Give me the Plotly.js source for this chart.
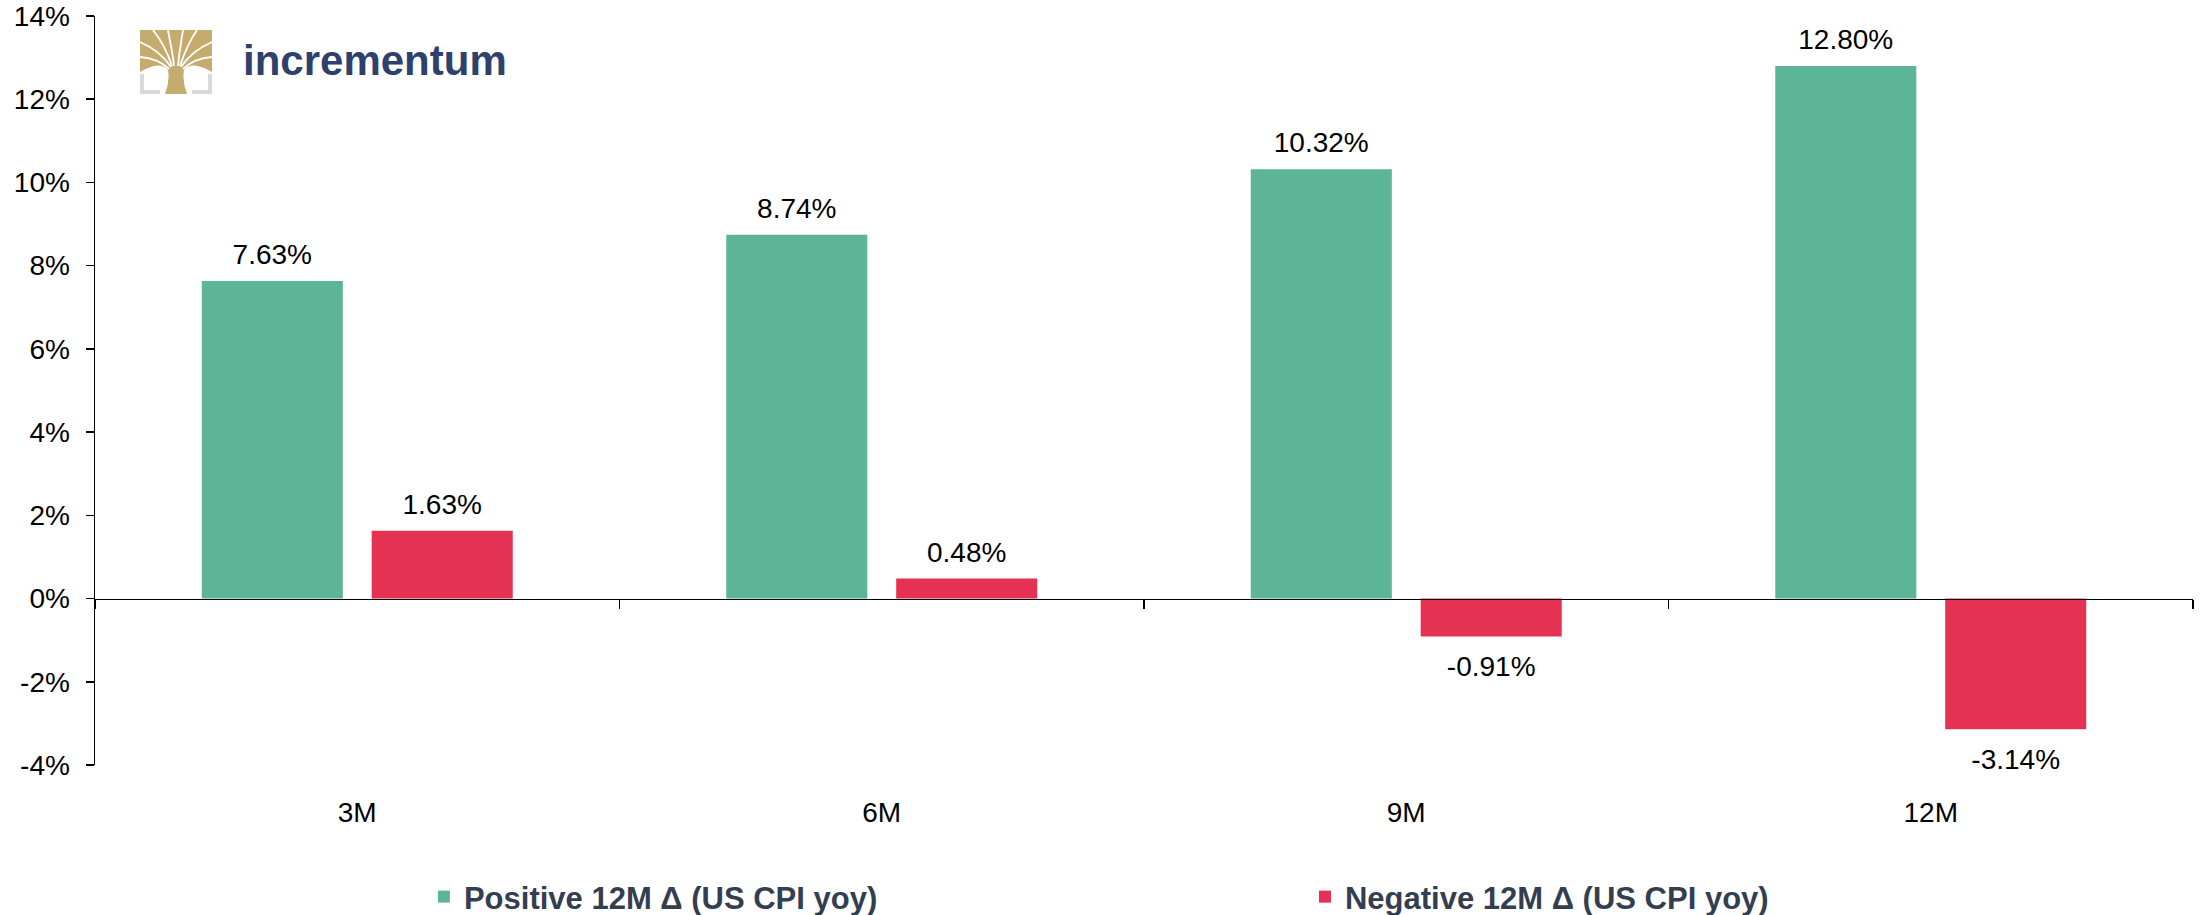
<!DOCTYPE html>
<html>
<head>
<meta charset="utf-8">
<script src="https://cdn.plot.ly/plotly-3.0.1.min.js"></script>
<style>
  html, body { margin: 0; padding: 0; background: #fff; }
  #chart { width: 2201px; height: 915px; }
</style>
</head>
<body>
<div id="chart"></div>
<script>
// data
var categories = ['3M', '6M', '9M', '12M'];
var positiveDelta = [7.63, 8.74, 10.32, 12.80];
var negativeDelta = [1.63, 0.48, -0.91, -3.14];
var seriesNames = ['Positive 12M Δ (US CPI yoy)', 'Negative 12M Δ (US CPI yoy)'];
var yTickVals = [-4, -2, 0, 2, 4, 6, 8, 10, 12, 14];
var yTickText = ['-4%', '-2%', '0%', '2%', '4%', '6%', '8%', '10%', '12%', '14%'];

var green = '#5bb596';
var red = '#e63252';
var font = '"Liberation Sans", Arial, sans-serif';

// wider spacers on each side push the label a bit further from the bar
var padBelow = '<span style="font-size:66px">\u00a0</span>';
var padAbove = '<span style="font-size:41px">\u00a0</span>';
function labelTemplates(vals) {
  return vals.map(function (v) {
    return v >= 0 ? padBelow + '%{y:.2f}%' + padBelow
                  : padAbove + '%{y:.2f}%' + padAbove;
  });
}

// small logo drawn as inline svg
var logoSvg =
  '<svg xmlns="http://www.w3.org/2000/svg" viewBox="0 0 72 64" width="72" height="64">' +
  '<g fill="#d9d9d9">' +
  '<rect x="0" y="44" width="4" height="20"/><rect x="0" y="60" width="20" height="4"/>' +
  '<rect x="68" y="44" width="4" height="20"/><rect x="52" y="60" width="20" height="4"/>' +
  '</g>' +
  '<path fill="#c5ab6e" d="M0,0 H72 V42 Q52,30 44,40 Q42,52 47,64 H25 Q30,52 28,40 Q20,30 0,42 Z"/>' +
  '<g fill="none" stroke="#fff" stroke-width="1.8">' +
  '<path d="M34,36 C33,24 30,12 28,0"/>' +
  '<path d="M38,36 C39,24 41,12 43,0"/>' +
  '<path d="M32,36 C28,24 21,10 13,0"/>' +
  '<path d="M40,36 C44,24 50,10 57,0"/>' +
  '<path d="M31,37 C25,28 14,18 0,12"/>' +
  '<path d="M41,37 C47,28 58,18 72,12"/>' +
  '<path d="M29,39 C22,32 12,28 0,27"/>' +
  '<path d="M43,39 C50,32 60,28 72,27"/>' +
  '</g></svg>';

var traces = [
  {
    type: 'bar',
    name: seriesNames[0],
    x: categories,
    y: positiveDelta,
    marker: {color: green},
    texttemplate: labelTemplates(positiveDelta),
    textposition: 'outside',
    constraintext: 'none',
    cliponaxis: false,
    textfont: {family: font, size: 28, color: '#000'},
    hoverinfo: 'skip',
    legend: 'legend'
  },
  {
    type: 'bar',
    name: seriesNames[1],
    x: categories,
    y: negativeDelta,
    marker: {color: red},
    texttemplate: labelTemplates(negativeDelta),
    textposition: 'outside',
    constraintext: 'none',
    cliponaxis: false,
    textfont: {family: font, size: 28, color: '#000'},
    hoverinfo: 'skip',
    legend: 'legend2'
  }
];

var legendFont = {family: font, size: 31, color: '#333f50', weight: 'bold'};

var layout = {
  width: 2201,
  height: 915,
  margin: {l: 95, r: 8, t: 16, b: 150, autoexpand: false},
  paper_bgcolor: '#fff',
  plot_bgcolor: '#fff',
  font: {family: font, size: 28, color: '#000'},
  barmode: 'group',
  bargap: 0.352,
  bargroupgap: 0.17,
  showlegend: true,
  legend: {
    orientation: 'h',
    xref: 'container', yref: 'container',
    x: 0.1926, xanchor: 'left',
    y: 0.0197, yanchor: 'middle',
    font: legendFont
  },
  legend2: {
    orientation: 'h',
    xref: 'container', yref: 'container',
    x: 0.5929, xanchor: 'left',
    y: 0.0197, yanchor: 'middle',
    font: legendFont
  },
  xaxis: {
    type: 'category',
    anchor: 'free',
    position: 4 / 18,
    showline: true,
    linecolor: '#000',
    linewidth: 1.5,
    ticks: 'outside',
    tickson: 'boundaries',
    ticklen: 9,
    tickwidth: 1.5,
    tickcolor: '#000',
    ticklabelstandoff: 188,
    showgrid: false,
    zeroline: false,
    tickfont: {family: font, size: 28, color: '#000'}
  },
  yaxis: {
    range: [-4, 14],
    tickmode: 'array',
    tickvals: yTickVals,
    ticktext: yTickText,
    showline: true,
    linecolor: '#000',
    linewidth: 1.5,
    ticks: 'outside',
    ticklen: 8,
    tickwidth: 1.5,
    tickcolor: '#000',
    ticklabelstandoff: 10,
    showgrid: false,
    zeroline: false,
    tickfont: {family: font, size: 28, color: '#000'}
  },
  images: [{
    source: 'data:image/svg+xml;charset=utf-8,' + encodeURIComponent(logoSvg),
    xref: 'paper', yref: 'paper',
    x: 0.02145, y: 0.9813,
    sizex: 0.03432, sizey: 0.08545,
    xanchor: 'left', yanchor: 'top',
    sizing: 'stretch',
    layer: 'above'
  }],
  annotations: [{
    text: 'incrementum',
    xref: 'paper', yref: 'paper',
    x: 0.0696, y: 0.941,
    xanchor: 'left', yanchor: 'middle',
    showarrow: false,
    font: {family: font, size: 42, color: '#2e416c', weight: 'bold'}
  }]
};

Plotly.newPlot('chart', traces, layout, {staticPlot: true, displayModeBar: false});
</script>
</body>
</html>
